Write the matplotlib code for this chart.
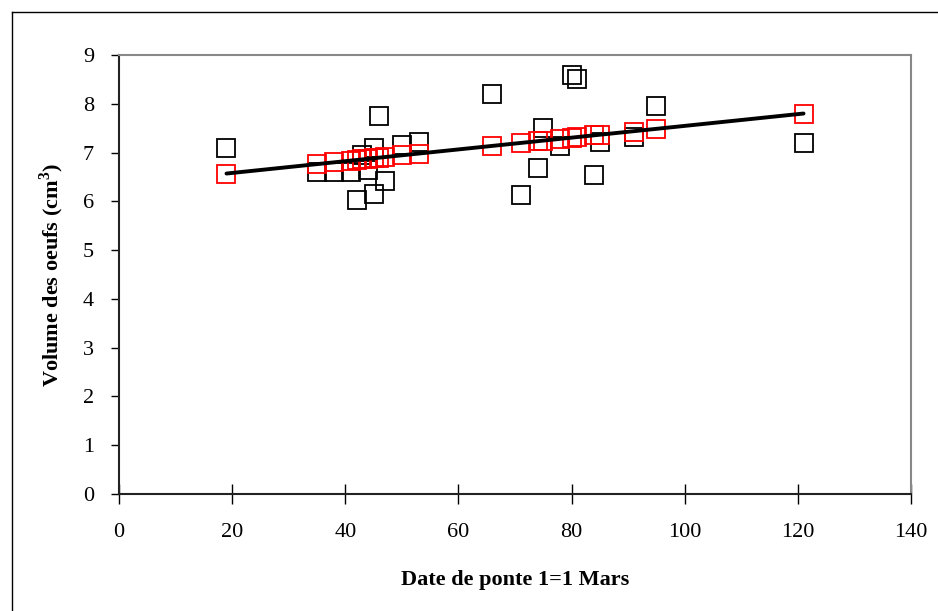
import numpy as np
import matplotlib.pyplot as plt
from matplotlib.lines import Line2D

plt.rcParams['font.family'] = ['Liberation Serif', 'DejaVu Serif']
plt.rcParams['mathtext.fontset'] = 'custom'
plt.rcParams['mathtext.rm'] = 'Liberation Serif:bold'
plt.rcParams['mathtext.bf'] = 'Liberation Serif:bold'

# observed egg volumes (black squares)
date_obs = [19, 35, 38, 41, 42, 43, 44, 45, 45, 46, 47, 50, 53,
            66, 71, 74, 75, 78, 80, 81, 84, 85, 91, 95, 121]
vol_obs = [7.10, 6.60, 6.61, 6.60, 6.03, 6.95, 6.64, 7.10, 6.15, 7.75, 6.41, 7.15, 7.22,
           8.21, 6.13, 6.69, 7.51, 7.14, 8.59, 8.50, 6.53, 7.22, 7.31, 7.96, 7.19]

# predicted values (red squares)
date_pred = [19, 35, 38, 41, 42, 43, 44, 45, 46, 47, 50, 53,
             66, 71, 74, 75, 78, 80, 81, 84, 85, 91, 95, 121]
vol_pred = [6.57, 6.76, 6.80, 6.83, 6.84, 6.86, 6.87, 6.88, 6.89, 6.90, 6.94, 6.97,
            7.13, 7.19, 7.23, 7.24, 7.28, 7.30, 7.31, 7.35, 7.36, 7.43, 7.48, 7.80]

xticks = [0, 20, 40, 60, 80, 100, 120, 140]
yticks = [0, 1, 2, 3, 4, 5, 6, 7, 8, 9]

fig = plt.figure(figsize=(9.38, 6.11), dpi=100)
ax = fig.add_axes([119/938, 1-494/611, (911-119)/938, (494-55)/611])

ax.plot(date_obs, vol_obs, ls='none', marker='s', ms=13, mfc='none',
        mec='black', mew=1.3, zorder=3)
ax.plot(date_pred, vol_pred, ls='none', marker='s', ms=13, mfc='none',
        mec='red', mew=1.3, zorder=4)
# regression line between first and last predicted points
ax.plot([date_pred[0], date_pred[-1]], [vol_pred[0], vol_pred[-1]],
        color='black', lw=2.8, solid_capstyle='round', zorder=5)

ax.set_xlim(0, 140)
ax.set_ylim(0, 9)
ax.set_xticks(xticks)
ax.set_yticks(yticks)
ax.tick_params(axis='x', direction='inout', length=14, width=1, pad=14, labelsize=16)
ax.tick_params(axis='y', direction='out', length=6, width=1, pad=12, labelsize=16)

for s in ['left', 'bottom']:
    ax.spines[s].set_color('#222222')
    ax.spines[s].set_linewidth(1.5)
for s in ['top', 'right']:
    ax.spines[s].set_color('#888888')
    ax.spines[s].set_linewidth(1.5)

ax.set_xlabel('Date de ponte 1=1 Mars', fontsize=16, fontweight='bold', labelpad=20)
ax.set_ylabel('Volume des oeufs (cm$^{\\mathbf{3}}$)', fontsize=16, fontweight='bold', labelpad=12)

# outer chart frame (cut at right and bottom)
fx = 12/938
fy = 1 - 12/611
fig.add_artist(Line2D([fx, 1], [fy, fy], color='black', lw=1, transform=fig.transFigure))
fig.add_artist(Line2D([fx, fx], [0, fy], color='black', lw=1, transform=fig.transFigure))

fig.savefig('out.png', dpi=100)
